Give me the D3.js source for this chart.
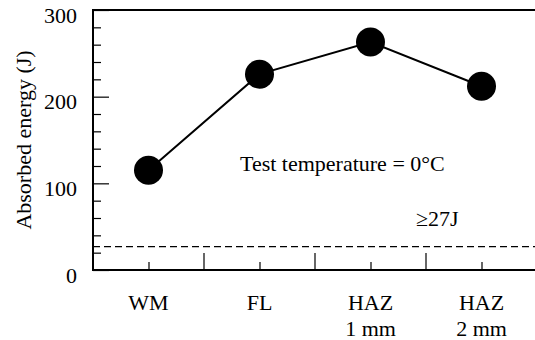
<html>
<head>
    <title>Absorbed energy</title>
    <script src="https://d3js.org/d3.v7.min.js"></script>
<style>
    body{
        margin: 0;
        background: #fff;
    }
</style>
</head>
<body>
    <script>
    // data
    var categories = ["WM", "FL", "HAZ 1 mm", "HAZ 2 mm"];
    var catLines = [["WM"], ["FL"], ["HAZ", "1 mm"], ["HAZ", "2 mm"]];
    var energy = [115, 226, 263, 212];
    var limit = 27;
    var yMajor = [0, 100, 200, 300];
    var yMinor = [20, 40, 60, 80, 120, 140, 160, 180, 220, 240, 260, 280];

    var width = 535,
        height = 340;

    var serif = "'Liberation Serif', 'Times New Roman', serif";

    // note: "top" is a read-only window property, so use other names
    var plotL = 93, plotT = 10, plotB = 270, plotR = 537;

    var svg = d3.select("body")
      .append("svg")
      .attr("width", width)
      .attr("height", height);

    var x = d3.scaleBand()
    .domain(categories)
    .range([plotL, plotR])
    .padding(0);

    var y = d3.scaleLinear()
    .domain([0, 300])
    .range([plotB, plotT]);

    var cx = function(c) { return x(c) + x.bandwidth() / 2; };

    var styleText = function(sel) {
        sel.style("font-family", serif)
        .style("font-size", "22px")
        .attr("fill", "#000");
    };

    // y ticks, inside the frame
    var yAxis = svg.append("g")
    .attr("transform", "translate(" + plotL + ",0)")
    .call(d3.axisLeft(y).tickValues(yMajor).tickSize(-16).tickPadding(16));
    yAxis.select(".domain").remove();
    yAxis.selectAll("line").attr("stroke-width", 1.2);
    yAxis.selectAll("text")
    .attr("dy", "12px")
    .call(styleText);

    var yMinorAxis = svg.append("g")
    .attr("transform", "translate(" + plotL + ",0)")
    .call(d3.axisLeft(y).tickValues(yMinor).tickSize(-8).tickFormat(""));
    yMinorAxis.select(".domain").remove();
    yMinorAxis.selectAll("line").attr("stroke-width", 1.2);

    // x ticks: short at categories, long between them
    var xAxis = svg.append("g")
    .attr("transform", "translate(0," + plotB + ")")
    .call(d3.axisBottom(d3.scalePoint().domain(categories).range([cx(categories[0]), cx(categories[3])]))
        .tickSize(-8).tickFormat(""));
    xAxis.select(".domain").remove();
    xAxis.selectAll("line").attr("stroke-width", 1.2);

    svg.append("g")
    .selectAll("line")
    .data(categories.slice(1))
    .enter()
    .append("line")
    .attr("x1", d => x(d))
    .attr("x2", d => x(d))
    .attr("y1", plotB)
    .attr("y2", plotB - 17)
    .attr("stroke", "#000")
    .attr("stroke-width", 1.2);

    // category labels
    var labels = svg.append("g")
    .selectAll("text")
    .data(categories)
    .enter()
    .append("text")
    .attr("text-anchor", "middle")
    .attr("x", d => cx(d))
    .attr("y", 310)
    .call(styleText);
    labels.selectAll("tspan")
    .data((d, i) => catLines[i])
    .enter()
    .append("tspan")
    .attr("x", function() { return this.parentNode.getAttribute("x"); })
    .attr("dy", (d, i) => i === 0 ? 0 : 26)
    .text(d => d);

    // frame (right side runs off the picture)
    svg.append("rect")
    .attr("x", plotL)
    .attr("y", plotT)
    .attr("width", 480)
    .attr("height", plotB - plotT)
    .attr("fill", "none")
    .attr("stroke", "#000")
    .attr("stroke-width", 2);

    // 27J requirement
    svg.append("line")
    .attr("x1", plotL)
    .attr("x2", width)
    .attr("y1", y(limit))
    .attr("y2", y(limit))
    .attr("stroke", "#000")
    .attr("stroke-width", 1.2)
    .attr("stroke-dasharray", "7 4");

    svg.append("text")
    .attr("x", 416)
    .attr("y", 226)
    .call(styleText)
    .text("\u2265" + limit + "J");

    svg.append("text")
    .attr("x", 240)
    .attr("y", 171)
    .call(styleText)
    .text("Test temperature = 0\u00b0C");

    // line + markers
    var line = d3.line()
    .x((d, i) => cx(categories[i]))
    .y(d => y(d));

    svg.append("path")
    .datum(energy)
    .attr("d", line)
    .attr("fill", "none")
    .attr("stroke", "#000")
    .attr("stroke-width", 2);

    svg.append("g")
    .selectAll("circle")
    .data(energy)
    .enter()
    .append("circle")
    .attr("cx", (d, i) => cx(categories[i]))
    .attr("cy", d => y(d))
    .attr("r", 14.5)
    .attr("fill", "#000");

    // axis title
    svg.append("text")
    .attr("transform", "translate(31," + ((plotT + plotB) / 2) + ") rotate(-90)")
    .attr("text-anchor", "middle")
    .call(styleText)
    .text("Absorbed energy (J)");
    </script>
</body>
</html>
